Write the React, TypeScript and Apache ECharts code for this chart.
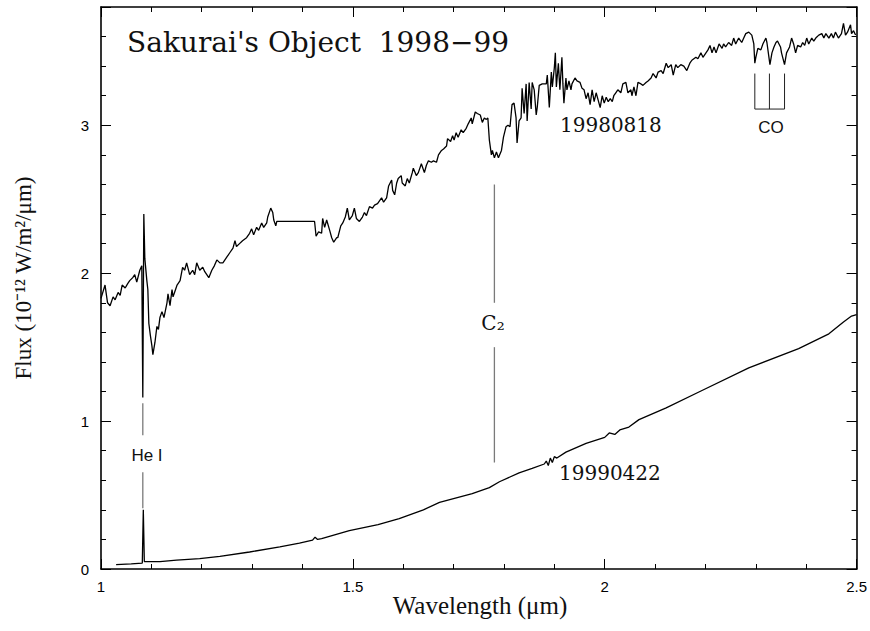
import React, { useEffect, useRef } from "react";
import * as echarts from "echarts";

// 19980818 spectrum (wavelength in µm, flux in 1e-12 W/m2/µm)
const wavelength1998 = [
  1.000, 1.008, 1.013, 1.018, 1.024, 1.028, 1.034, 1.038, 1.042, 1.048, 1.053, 1.057, 1.063, 1.067, 1.071, 1.077, 1.081,
  1.083, 1.085, 1.087, 1.091, 1.093, 1.095, 1.098, 1.101, 1.103, 1.107, 1.111, 1.114, 1.117, 1.121, 1.125, 1.131, 1.133,
  1.137, 1.141, 1.143, 1.147, 1.151, 1.157, 1.162, 1.166, 1.170, 1.176, 1.182, 1.186, 1.190, 1.196, 1.202, 1.206, 1.210,
  1.214, 1.220, 1.225, 1.230, 1.236, 1.242, 1.250, 1.256, 1.262, 1.266, 1.269, 1.275, 1.281, 1.289, 1.295, 1.299, 1.303,
  1.309, 1.313, 1.319, 1.323, 1.329, 1.331, 1.337, 1.341, 1.343, 1.347, 1.349, 1.424, 1.427, 1.432, 1.438, 1.440, 1.444,
  1.448, 1.454, 1.458, 1.462, 1.468, 1.470, 1.476, 1.480, 1.485, 1.489, 1.493, 1.499, 1.503, 1.507, 1.513, 1.519, 1.523,
  1.527, 1.533, 1.539, 1.543, 1.549, 1.557, 1.561, 1.567, 1.571, 1.577, 1.579, 1.583, 1.587, 1.590, 1.596, 1.598, 1.604,
  1.608, 1.612, 1.618, 1.620, 1.626, 1.630, 1.636, 1.638, 1.642, 1.646, 1.650, 1.656, 1.660, 1.666, 1.670, 1.676, 1.680,
  1.686, 1.688, 1.694, 1.698, 1.701, 1.705, 1.709, 1.715, 1.719, 1.725, 1.729, 1.735, 1.737, 1.743, 1.747, 1.753, 1.757,
  1.761, 1.765, 1.768, 1.771, 1.775, 1.777, 1.781, 1.785, 1.789, 1.795, 1.799, 1.804, 1.808, 1.812, 1.816, 1.820, 1.824,
  1.826, 1.830, 1.834, 1.836, 1.840, 1.844, 1.846, 1.850, 1.854, 1.856, 1.860, 1.864, 1.866, 1.870, 1.876, 1.884, 1.886,
  1.890, 1.894, 1.896, 1.900, 1.902, 1.904, 1.908, 1.911, 1.915, 1.917, 1.919, 1.923, 1.925, 1.929, 1.933, 1.935, 1.941,
  1.945, 1.951, 1.955, 1.959, 1.963, 1.967, 1.971, 1.975, 1.979, 1.983, 1.987, 1.991, 1.995, 1.999, 2.003, 2.007, 2.011,
  2.015, 2.018, 2.022, 2.026, 2.032, 2.036, 2.042, 2.046, 2.052, 2.054, 2.058, 2.062, 2.066, 2.072, 2.076, 2.082, 2.086,
  2.092, 2.096, 2.102, 2.106, 2.112, 2.116, 2.122, 2.126, 2.132, 2.136, 2.141, 2.145, 2.151, 2.157, 2.163, 2.169, 2.173,
  2.181, 2.185, 2.191, 2.195, 2.201, 2.205, 2.209, 2.213, 2.217, 2.221, 2.227, 2.233, 2.236, 2.240, 2.246, 2.252, 2.256,
  2.260, 2.266, 2.272, 2.276, 2.280, 2.286, 2.292, 2.296, 2.298, 2.300, 2.304, 2.310, 2.314, 2.320, 2.322, 2.328, 2.332,
  2.336, 2.340, 2.343, 2.349, 2.351, 2.357, 2.361, 2.367, 2.371, 2.375, 2.379, 2.383, 2.389, 2.393, 2.397, 2.401, 2.405,
  2.411, 2.415, 2.419, 2.425, 2.431, 2.435, 2.439, 2.445, 2.450, 2.454, 2.458, 2.464, 2.470, 2.474, 2.478, 2.482, 2.488,
  2.490, 2.494, 2.498,
];
const flux1998 = [
  1.83, 1.92, 1.80, 1.78, 1.84, 1.82, 1.87, 1.85, 1.92, 1.90, 1.93, 1.95, 1.97, 1.99, 1.94, 2.02, 2.05,
  1.16, 2.40, 2.10, 1.95, 1.89, 1.66, 1.58, 1.51, 1.45, 1.53, 1.64, 1.62, 1.70, 1.74, 1.70, 1.80, 1.86,
  1.78, 1.89, 1.84, 1.88, 1.92, 1.95, 2.04, 2.02, 2.07, 1.99, 2.02, 1.99, 2.07, 2.02, 2.04, 2.01, 1.99,
  1.97, 2.02, 2.05, 2.09, 2.07, 2.07, 2.11, 2.14, 2.17, 2.22, 2.18, 2.20, 2.22, 2.24, 2.27, 2.30, 2.26,
  2.31, 2.29, 2.34, 2.31, 2.34, 2.38, 2.44, 2.41, 2.36, 2.32, 2.35, 2.35, 2.25, 2.28, 2.27, 2.37, 2.31,
  2.36, 2.29, 2.24, 2.21, 2.24, 2.24, 2.32, 2.34, 2.38, 2.44, 2.36, 2.39, 2.44, 2.37, 2.35, 2.38, 2.41,
  2.39, 2.45, 2.44, 2.46, 2.47, 2.51, 2.48, 2.51, 2.59, 2.63, 2.56, 2.53, 2.61, 2.64, 2.66, 2.61, 2.59,
  2.64, 2.61, 2.68, 2.71, 2.66, 2.68, 2.74, 2.72, 2.68, 2.73, 2.76, 2.75, 2.76, 2.75, 2.80, 2.83, 2.84,
  2.86, 2.91, 2.89, 2.93, 2.90, 2.95, 2.92, 2.97, 2.95, 2.98, 3.01, 3.05, 3.01, 3.09, 3.08, 3.07, 3.02,
  3.05, 3.04, 3.05, 2.90, 2.80, 2.83, 2.78, 2.82, 2.78, 2.83, 2.92, 2.99, 3.00, 2.99, 3.14, 3.15, 3.05,
  2.88, 3.03, 3.05, 3.25, 3.08, 3.28, 3.03, 3.29, 3.11, 3.29, 3.24, 3.07, 3.12, 3.27, 3.28, 3.28, 3.34,
  3.12, 3.36, 3.26, 3.39, 3.49, 3.26, 3.42, 3.24, 3.46, 3.28, 3.15, 3.32, 3.24, 3.30, 3.24, 3.28, 3.32,
  3.30, 3.29, 3.25, 3.24, 3.18, 3.22, 3.14, 3.24, 3.16, 3.22, 3.17, 3.12, 3.20, 3.15, 3.19, 3.16, 3.18,
  3.16, 3.20, 3.22, 3.24, 3.22, 3.28, 3.29, 3.22, 3.24, 3.20, 3.26, 3.20, 3.29, 3.28, 3.27, 3.29, 3.30,
  3.32, 3.35, 3.32, 3.36, 3.37, 3.35, 3.42, 3.39, 3.41, 3.34, 3.41, 3.39, 3.41, 3.40, 3.37, 3.42, 3.44,
  3.46, 3.45, 3.49, 3.46, 3.49, 3.51, 3.54, 3.49, 3.53, 3.49, 3.55, 3.52, 3.55, 3.53, 3.56, 3.54, 3.59,
  3.55, 3.59, 3.56, 3.59, 3.62, 3.63, 3.61, 3.55, 3.42, 3.46, 3.52, 3.51, 3.55, 3.59, 3.56, 3.41, 3.49,
  3.53, 3.56, 3.57, 3.53, 3.49, 3.41, 3.49, 3.53, 3.59, 3.55, 3.49, 3.54, 3.53, 3.56, 3.54, 3.59, 3.55,
  3.59, 3.57, 3.59, 3.61, 3.62, 3.59, 3.62, 3.59, 3.62, 3.59, 3.63, 3.59, 3.62, 3.69, 3.61, 3.63, 3.68,
  3.62, 3.64, 3.61,
];

// 19990422 spectrum
const wavelength1999 = [
  1.030, 1.060, 1.082, 1.084, 1.086, 1.117, 1.150, 1.196, 1.236, 1.295, 1.355, 1.394, 1.420, 1.425, 1.430, 1.438,
  1.493, 1.550, 1.592, 1.640, 1.672, 1.737, 1.771, 1.791, 1.830, 1.856, 1.880, 1.884, 1.888, 1.892, 1.896, 1.900,
  1.905, 1.923, 1.963, 2.000, 2.009, 2.020, 2.030, 2.048, 2.068, 2.122, 2.189, 2.286, 2.385, 2.445, 2.474, 2.490, 2.500,
];
const flux1999 = [
  0.03, 0.035, 0.04, 0.40, 0.05, 0.05, 0.06, 0.07, 0.085, 0.115, 0.15, 0.175, 0.195, 0.215, 0.20, 0.205,
  0.26, 0.30, 0.34, 0.40, 0.45, 0.51, 0.55, 0.59, 0.65, 0.68, 0.71, 0.73, 0.70, 0.75, 0.72, 0.76,
  0.75, 0.79, 0.85, 0.89, 0.92, 0.91, 0.94, 0.96, 1.01, 1.09, 1.20, 1.36, 1.49, 1.59, 1.67, 1.71, 1.72,
];

// feature markers
const heIWavelength = 1.083;
const heISegments = [[1.12, 0.905], [0.655, 0.41]];
const c2Wavelength = 1.781;
const c2Segments = [[2.60, 1.80], [1.50, 0.72]];
const coWavelengths = [2.298, 2.327, 2.357];
const coTop = 3.35;
const coBottom = 3.11;

const xMin = 1;
const xMax = 2.5;
const yMin = 0;
const yMax = 3.8;

export default function App() {
  const ref = useRef<HTMLDivElement>(null);
  useEffect(() => {
    if (!ref.current) return;
    const chart = echarts.init(ref.current, null, { renderer: "svg" });

    const zip = (xs: number[], ys: number[]) => xs.map((x, i) => [x, ys[i]]);
    const gray = "#7a7a7a";
    const markerSeries: any[] = [];
    heISegments.forEach((s) =>
      markerSeries.push({ type: "line", data: [[heIWavelength, s[0]], [heIWavelength, s[1]]], symbol: "none", lineStyle: { color: gray, width: 1.3 }, silent: true })
    );
    c2Segments.forEach((s) =>
      markerSeries.push({ type: "line", data: [[c2Wavelength, s[0]], [c2Wavelength, s[1]]], symbol: "none", lineStyle: { color: gray, width: 1.3 }, silent: true })
    );
    markerSeries.push({
      type: "line",
      data: [[coWavelengths[0], coTop], [coWavelengths[0], coBottom], [coWavelengths[2], coBottom], [coWavelengths[2], coTop]],
      symbol: "none",
      lineStyle: { color: "#222", width: 1 },
      silent: true,
    });
    markerSeries.push({
      type: "line",
      data: [[coWavelengths[1], coTop], [coWavelengths[1], coBottom]],
      symbol: "none",
      lineStyle: { color: "#222", width: 1 },
      silent: true,
    });

    const tickStyle = { color: "#000", width: 1 };
    const baseX = {
      type: "value",
      min: xMin,
      max: xMax,
      interval: 0.5,
      splitLine: { show: false },
      axisLine: { show: true, onZero: false, lineStyle: { color: "#000", width: 1.6 } },
      axisTick: { show: true, inside: true, length: 10, lineStyle: tickStyle },
      minorTick: { show: true, splitNumber: 5, length: 5, lineStyle: tickStyle },
    };
    const baseY = {
      type: "value",
      min: yMin,
      max: yMax,
      splitLine: { show: false },
    };

    chart.setOption({
      animation: false,
      backgroundColor: "#fff",
      grid: { left: 101, top: 7, width: 757, height: 562 },
      xAxis: [
        {
          ...baseX,
          position: "bottom",
          axisLabel: { color: "#000", fontFamily: "Liberation Sans", fontSize: 15, margin: 10 },
        },
        { ...baseX, position: "top", axisLabel: { show: false } },
      ],
      yAxis: [
        {
          ...baseY,
          position: "left",
          interval: 1,
          axisLine: { show: true, onZero: false, lineStyle: { color: "#000", width: 1.6 } },
          axisTick: { show: true, inside: true, length: 10, lineStyle: tickStyle },
          axisLabel: {
            color: "#000",
            fontFamily: "Liberation Sans",
            fontSize: 15,
            margin: 12,
            formatter: (v: number) => (Number.isInteger(v) ? String(v) : ""),
          },
        },
        {
          ...baseY,
          position: "left",
          interval: 0.2,
          axisLine: { show: false },
          axisTick: { show: true, inside: true, length: 5, lineStyle: tickStyle },
          axisLabel: { show: false },
        },
        {
          ...baseY,
          position: "right",
          interval: 1,
          axisLine: { show: true, onZero: false, lineStyle: { color: "#000", width: 1.6 } },
          axisTick: { show: true, inside: true, length: 10, lineStyle: tickStyle },
          axisLabel: { show: false },
        },
        {
          ...baseY,
          position: "right",
          interval: 0.2,
          axisLine: { show: false },
          axisTick: { show: true, inside: true, length: 5, lineStyle: tickStyle },
          axisLabel: { show: false },
        },
      ],
      series: [
        {
          name: "19980818",
          type: "line",
          data: zip(wavelength1998, flux1998),
          symbol: "none",
          lineStyle: { color: "#000", width: 1.3 },
          silent: true,
        },
        {
          name: "19990422",
          type: "line",
          data: zip(wavelength1999, flux1999),
          symbol: "none",
          lineStyle: { color: "#000", width: 1.3 },
          silent: true,
        },
        ...markerSeries,
      ],
      graphic: [
        {
          type: "text",
          x: 127,
          y: 42,
          style: { text: "Sakurai's Object  1998\u221299", fontFamily: "DejaVu Serif", fontSize: 28, fill: "#111", verticalAlign: "middle" },
        },
        {
          type: "text",
          x: 560,
          y: 125,
          style: { text: "19980818", fontFamily: "DejaVu Serif", fontSize: 20, fill: "#111", verticalAlign: "middle" },
        },
        {
          type: "text",
          x: 559,
          y: 473,
          style: { text: "19990422", fontFamily: "DejaVu Serif", fontSize: 20, fill: "#111", verticalAlign: "middle" },
        },
        {
          type: "text",
          x: 771,
          y: 127,
          style: { text: "CO", fontFamily: "Liberation Sans", fontSize: 17, fill: "#111", align: "center", verticalAlign: "middle" },
        },
        {
          type: "text",
          x: 147,
          y: 455,
          style: { text: "He I", fontFamily: "Liberation Sans", fontSize: 17, fill: "#111", align: "center", verticalAlign: "middle" },
        },
        {
          type: "text",
          x: 493,
          y: 323,
          style: { text: "C\u2082", fontFamily: "DejaVu Serif", fontSize: 20, fill: "#111", align: "center", verticalAlign: "middle" },
        },
        {
          type: "text",
          x: 480,
          y: 605,
          style: { text: "Wavelength (\u03bcm)", fontFamily: "Liberation Serif", fontSize: 25, fill: "#111", align: "center", verticalAlign: "middle" },
        },
        {
          type: "text",
          x: 23,
          y: 278,
          rotation: Math.PI / 2,
          style: { text: "Flux (10\u207b\u00b9\u00b2 W/m\u00b2/\u03bcm)", fontFamily: "Liberation Serif", fontSize: 23, fill: "#111", align: "center", verticalAlign: "middle" },
        },
      ],
    });
    return () => chart.dispose();
  }, []);
  return <div ref={ref} style={{ position: "fixed", left: 0, top: 0, width: 870, height: 631, background: "#fff" }} />;
}
